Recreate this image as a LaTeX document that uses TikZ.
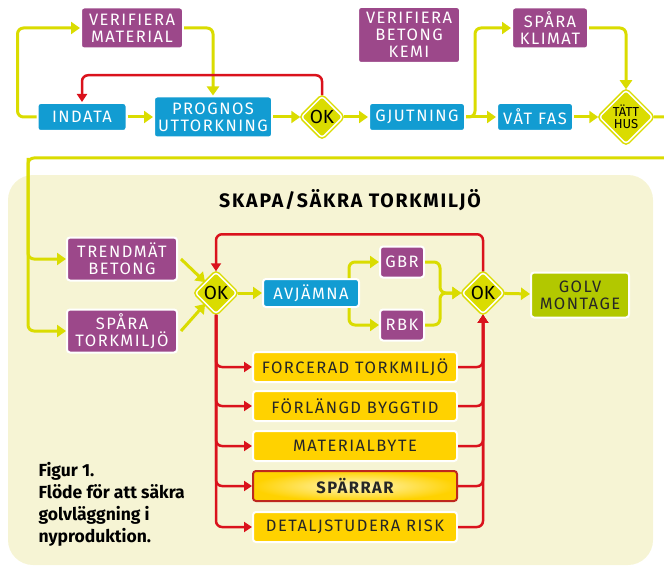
\documentclass[tikz,border=0pt]{standalone}
\usepackage{fontspec}
\setmainfont{Fira Sans}
\newfontfamily\rutfont[LetterSpace=9]{Fira Sans}
\usetikzlibrary{shapes.geometric,arrows.meta}

\definecolor{lilla}{RGB}{156,72,138}
\definecolor{bla}{RGB}{18,156,210}
\definecolor{linjegul}{RGB}{218,220,0}
\definecolor{rod}{RGB}{218,18,28}
\definecolor{rodmork}{RGB}{190,40,30}
\definecolor{gul}{RGB}{255,210,0}
\definecolor{ljusgul}{RGB}{255,246,190}
\definecolor{limegron}{RGB}{178,200,0}
\definecolor{kram}{RGB}{246,244,212}

\tikzset{
  ruta/.style={rounded corners=3pt,draw=white,line width=2pt,align=center,inner sep=2pt,
    font=\rutfont\fontsize{16.5}{17}\selectfont,minimum height=28pt},
  lillaruta/.style={ruta,fill=lilla,text=white},
  blaruta/.style={ruta,fill=bla,text=white},
  gulruta/.style={ruta,fill=gul,text=black!85,minimum width=204pt,minimum height=30pt},
  okruta/.style={diamond,draw=linjegul,double=white,double distance=1.5pt,line width=1.5pt,
    fill=linjegul,rounded corners=3pt,minimum size=42pt,inner sep=0pt,align=center,
    font=\fontsize{19}{19}\selectfont},
  gulpil/.style={draw=linjegul,line width=3pt,rounded corners=6pt,-{Triangle[length=9pt,width=12pt]}},
  rodpil/.style={draw=rod,line width=2.5pt,rounded corners=6pt,-{Triangle[length=8pt,width=10pt]}}
}

\begin{document}
\begin{tikzpicture}[x=1pt,y=-1pt]
  \useasboundingbox (0,0) rectangle (664,567);
  % bakgrund
  \fill[kram,rounded corners=25pt] (8,175) rectangle (653,565);

  % byggskede
  \node[lillaruta,minimum width=102pt,minimum height=41pt] (VerMaterial) at (132,28) {VERIFIERA\\MATERIAL};
  \node[blaruta,minimum width=89pt] (Indata) at (82,117) {INDATA};
  \node[blaruta,minimum width=118pt,minimum height=41pt] (Prognos) at (213,117) {PROGNOS\\UTTORKNING};
  \node[okruta] (OkEtt) at (322,117) {OK};
  \node[lillaruta,minimum width=102pt,minimum height=56pt] (VerBetong) at (409,35) {VERIFIERA\\BETONG\\KEMI};
  \node[blaruta,minimum width=96pt] (Gjutning) at (417,117) {GJUTNING};
  \node[lillaruta,minimum width=76pt,minimum height=41pt] (SparaKlimat) at (550,28) {SPÅRA\\KLIMAT};
  \node[blaruta,minimum width=76pt] (VatFas) at (535,117) {VÅT FAS};
  \node[okruta,minimum size=54pt,font=\fontsize{13}{12}\selectfont] (TattHus) at (626,117) {TÄTT\\HUS};

  \draw[gulpil] (Indata.west) -- ++(-19,0) |- (VerMaterial.west);
  \draw[gulpil] (VerMaterial.east) -| (Prognos.north);
  \draw[gulpil] (Indata) -- (Prognos);
  \draw[gulpil] (Prognos) -- (OkEtt);
  \draw[rodpil] (OkEtt.north) -- ++(0,-20) -| (Indata.north);
  \draw[gulpil] (OkEtt) -- (Gjutning);
  \draw[gulpil] (Gjutning) -- (VatFas);
  \draw[gulpil] (Gjutning.east) -- ++(9,0) |- (SparaKlimat.west);
  \draw[gulpil] (SparaKlimat.east) -| (TattHus.north);
  \draw[gulpil] (VatFas) -- (TattHus);

  % torkmiljo
  \node[font=\rutfont\bfseries\fontsize{19.5}{19}\selectfont] (Rubrik) at (350,200) {SKAPA/SÄKRA TORKMILJÖ};
  \node[lillaruta,minimum width=110pt,minimum height=43pt] (TrendBetong) at (122,259) {TRENDMÄT\\BETONG};
  \node[lillaruta,minimum width=110pt,minimum height=43pt] (SparaTork) at (122,331) {SPÅRA\\TORKMILJÖ};
  \node[okruta] (OkTva) at (216,293) {OK};
  \node[blaruta,minimum width=96pt] (Avjamna) at (311,293) {AVJÄMNA};
  \node[lillaruta,minimum width=44pt,minimum height=31pt] (Gbr) at (402,262) {GBR};
  \node[lillaruta,minimum width=44pt,minimum height=31pt] (Rbk) at (402,325) {RBK};
  \node[okruta] (OkTre) at (483,293) {OK};
  \node[ruta,fill=limegron,text=black!85,minimum width=98pt,minimum height=45pt] (GolvMontage) at (580,295) {GOLV\\MONTAGE};

  \coordinate (Knut) at (28,158);
  \coordinate (Samling) at (440,293);
  \draw[gulpil] (TattHus.east) -- ++(30,0) |- (Knut) |- (TrendBetong.west);
  \draw[gulpil] (Knut) |- (SparaTork.west);
  \draw[gulpil] ([xshift=3pt]TrendBetong.east) -- (OkTva.north west);
  \draw[gulpil] ([xshift=3pt]SparaTork.east) -- (OkTva.south west);
  \draw[gulpil] (OkTva) -- (Avjamna);
  \draw[gulpil] ([xshift=-11pt]Avjamna.north east) |- (Gbr.west);
  \draw[gulpil] ([xshift=-11pt]Avjamna.south east) |- (Rbk.west);
  \draw[gulpil] (Gbr.east) -| (Samling) -- (OkTre.west);
  \draw[gulpil] (Rbk.east) -| (Samling) -- (OkTre.west);
  \draw[gulpil] (OkTre) -- (GolvMontage);
  \draw[rodpil] (OkTre.north) -- ++(0,-37) -| (OkTva.north);

  % atgarder
  \node[gulruta] (Forcerad) at (355,367) {FORCERAD TORKMILJÖ};
  \node[gulruta] (Forlangd) at (355,406) {FÖRLÄNGD BYGGTID};
  \node[gulruta] (Materialbyte) at (355,446) {MATERIALBYTE};
  \node[gulruta,draw=rodmork,inner color=ljusgul,outer color=gul,
    font=\rutfont\bfseries\fontsize{16.5}{17}\selectfont] (Sparrar) at (355,486) {SPÄRRAR};
  \node[gulruta] (Detaljstudera) at (355,527) {DETALJSTUDERA RISK};

  \foreach \atgard in {Forcerad,Forlangd,Materialbyte,Sparrar,Detaljstudera}{
    \draw[rodpil] (OkTva.south) |- (\atgard.west);
    \draw[rodpil] (\atgard.east) -| (OkTre.south);
  }

  \node[align=left,anchor=north west,font=\bfseries\fontsize{17.5}{22}\selectfont] (Figurtext) at (35,459)
    {Figur 1.\\Flöde för att säkra\\golvläggning i\\nyproduktion.};
\end{tikzpicture}
\end{document}
